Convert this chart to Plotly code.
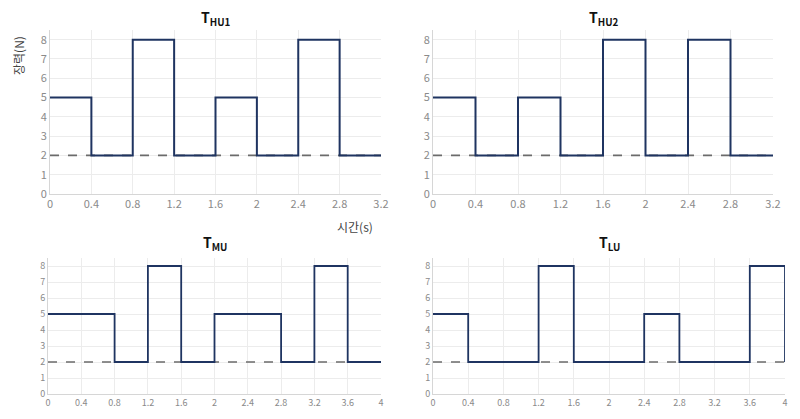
"""
Step tension profiles for the four units (T_HU1, T_HU2, T_MU, T_LU)
"""

import plotly.graph_objects as go

# time boundaries (s) and tension levels (N) for each panel
hu1_t = [0, 0.4, 0.8, 1.2, 1.6, 2.0, 2.4, 2.8, 3.2]
hu1_f = [5, 2, 8, 2, 5, 2, 8, 2, 2]

hu2_t = [0, 0.4, 0.8, 1.2, 1.6, 2.0, 2.4, 2.8, 3.2]
hu2_f = [5, 2, 5, 2, 8, 2, 8, 2, 2]

mu_t = [0, 0.8, 1.2, 1.6, 2.0, 2.8, 3.2, 3.6, 4.0]
mu_f = [5, 2, 8, 2, 5, 2, 8, 2, 2]

lu_t = [0, 0.4, 1.2, 1.6, 2.4, 2.8, 3.6, 4.0]
lu_f = [5, 2, 8, 2, 5, 2, 8, 2]

baseline = 2
titles = ["HU1", "HU2", "MU", "LU"]
top_ticks = [0, 0.4, 0.8, 1.2, 1.6, 2, 2.4, 2.8, 3.2]
bottom_ticks = [0, 0.4, 0.8, 1.2, 1.6, 2, 2.4, 2.8, 3.2, 3.6, 4]
y_ticks = [0, 1, 2, 3, 4, 5, 6, 7, 8]

W, H = 800, 419
FONT = "Noto Sans CJK KR, Noto Sans, sans-serif"
NAVY = "#1f3461"


def px_x(a, b):
    return [a / W, b / W]


def px_y(top, bottom):
    return [1 - bottom / H, 1 - top / H]


panels = [
    # (times, forces, x domain, y domain, x max, ticks, tick size, title y px)
    (hu1_t, hu1_f, px_x(50, 381), px_y(30, 194), 3.2, top_ticks, 11, 18),
    (hu2_t, hu2_f, px_x(433, 773), px_y(30, 194), 3.2, top_ticks, 11, 18),
    (mu_t, mu_f, px_x(48, 381), px_y(258, 394), 4.0, bottom_ticks, 9, 243),
    (lu_t, lu_f, px_x(433, 785), px_y(258, 394), 4.0, bottom_ticks, 9, 243),
]

fig = go.Figure()
annotations = []

for i, (t, f, xd, yd, xmax, ticks, tsize, ty) in enumerate(panels):
    n = "" if i == 0 else str(i + 1)
    # dashed reference line at 2 N
    fig.add_trace(go.Scatter(
        x=[0, xmax], y=[baseline, baseline], mode="lines",
        line=dict(color="#6b6b6b", width=1.6, dash="dash"),
        xaxis="x" + n, yaxis="y" + n, showlegend=False, hoverinfo="skip"
    ))
    fig.add_trace(go.Scatter(
        x=t, y=f, mode="lines", line_shape="hv",
        line=dict(color=NAVY, width=2 if i < 2 else 1.8),
        xaxis="x" + n, yaxis="y" + n, showlegend=False
    ))
    axis_common = dict(
        showgrid=True, gridcolor="#ececec", gridwidth=1,
        showline=True, linecolor="#d6d6d6", linewidth=1,
        ticks="", zeroline=False, automargin=False,
        tickfont=dict(family=FONT, size=tsize, color="#8a8a8a"),
    )
    fig.update_layout({
        "xaxis" + n: dict(domain=xd, range=[0, xmax], tickvals=ticks,
                          anchor="y" + n, **axis_common),
        "yaxis" + n: dict(domain=yd, range=[0, 8.5], tickvals=y_ticks,
                          anchor="x" + n, **axis_common),
    })
    annotations.append(dict(
        text=f"<b>T<sub>{titles[i]}</sub></b>",
        x=(xd[0] + xd[1]) / 2, y=1 - ty / H,
        xref="paper", yref="paper", xanchor="center", yanchor="middle",
        showarrow=False, font=dict(family=FONT, size=14, color="#111111")
    ))

# axis titles, sitting where the original placed them
annotations.append(dict(
    text="장력(N)", x=18 / W, y=1 - 56 / H, xref="paper", yref="paper",
    textangle=-90, showarrow=False, xanchor="center", yanchor="middle",
    font=dict(family=FONT, size=12, color="#444444")
))
annotations.append(dict(
    text="시간(s)", x=355 / W, y=1 - 226 / H, xref="paper", yref="paper",
    showarrow=False, xanchor="center", yanchor="middle",
    font=dict(family=FONT, size=12, color="#444444")
))

fig.update_layout(
    width=W, height=H,
    margin=dict(l=0, r=0, t=0, b=0),
    plot_bgcolor="white", paper_bgcolor="white",
    annotations=annotations,
)

# drop the browser's default body margin so the figure sits at the corner
fig.write_html("out.html", config={"displayModeBar": False},
               post_script="document.body.style.margin='0';")
